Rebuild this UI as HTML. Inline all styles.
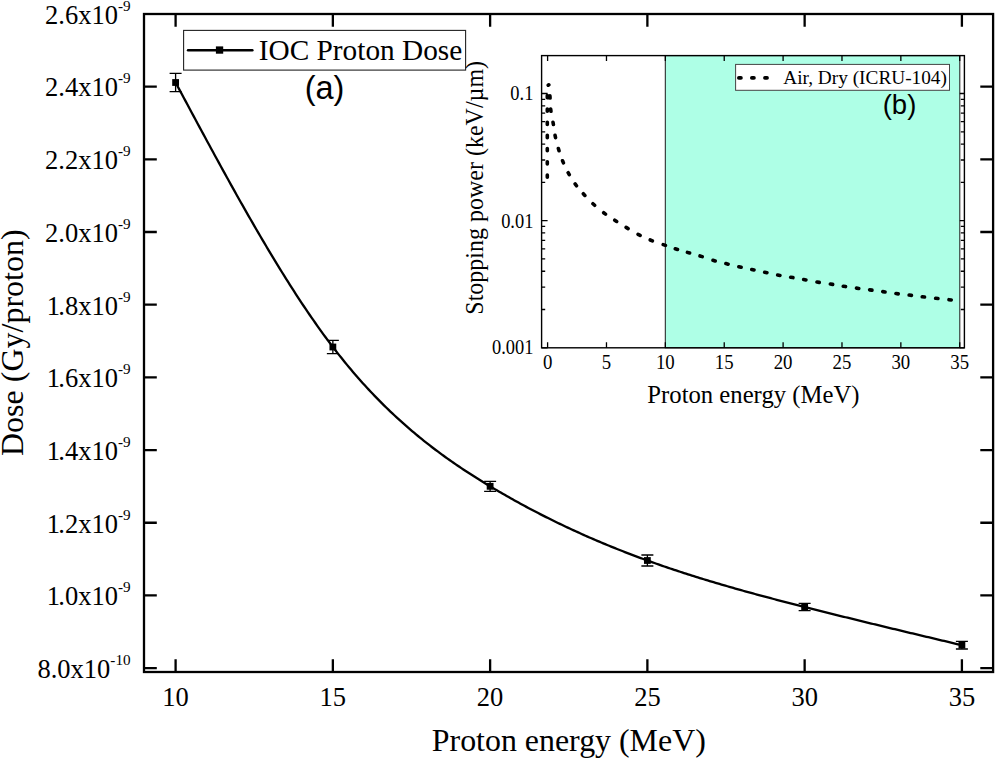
<!DOCTYPE html>
<html><head><meta charset="utf-8"><style>
html,body{margin:0;padding:0;background:#fff;}
svg{display:block;font-family:"Liberation Serif", serif;}
</style></head><body>
<svg width="995" height="758" viewBox="0 0 995 758" font-family='"Liberation Serif", serif' fill="#000">
<rect x="0" y="0" width="995" height="758" fill="#fff"/>
<path d="M175.60,82.50 L177.57,86.18 L179.54,89.86 L181.51,93.55 L183.48,97.23 L185.45,100.91 L187.42,104.58 L189.39,108.26 L191.37,111.93 L193.34,115.60 L195.31,119.27 L197.28,122.93 L199.25,126.59 L201.22,130.25 L203.19,133.90 L205.16,137.54 L207.13,141.18 L209.10,144.82 L211.07,148.45 L213.04,152.07 L215.01,155.69 L216.98,159.30 L218.95,162.90 L220.93,166.49 L222.90,170.08 L224.87,173.66 L226.84,177.23 L228.81,180.79 L230.78,184.34 L232.75,187.88 L234.72,191.42 L236.69,194.94 L238.66,198.45 L240.63,201.95 L242.60,205.43 L244.57,208.91 L246.54,212.37 L248.52,215.83 L250.49,219.26 L252.46,222.69 L254.43,226.10 L256.40,229.50 L258.37,232.88 L260.34,236.25 L262.31,239.61 L264.28,242.95 L266.25,246.27 L268.22,249.58 L270.19,252.87 L272.16,256.14 L274.13,259.40 L276.10,262.64 L278.08,265.87 L280.05,269.07 L282.02,272.26 L283.99,275.42 L285.96,278.57 L287.93,281.70 L289.90,284.81 L291.87,287.90 L293.84,290.97 L295.81,294.02 L297.78,297.04 L299.75,300.05 L301.72,303.03 L303.69,305.99 L305.66,308.93 L307.64,311.85 L309.61,314.74 L311.58,317.61 L313.55,320.46 L315.52,323.28 L317.49,326.07 L319.46,328.84 L321.43,331.59 L323.40,334.31 L325.37,337.00 L327.34,339.67 L329.31,342.31 L331.28,344.93 L333.25,347.52 L335.22,350.07 L337.20,352.61 L339.17,355.11 L341.14,357.59 L343.11,360.04 L345.08,362.47 L347.05,364.86 L349.02,367.24 L350.99,369.59 L352.96,371.91 L354.93,374.20 L356.90,376.48 L358.87,378.72 L360.84,380.95 L362.81,383.15 L364.78,385.32 L366.76,387.48 L368.73,389.60 L370.70,391.71 L372.67,393.79 L374.64,395.85 L376.61,397.89 L378.58,399.91 L380.55,401.90 L382.52,403.88 L384.49,405.83 L386.46,407.76 L388.43,409.67 L390.40,411.56 L392.37,413.43 L394.35,415.28 L396.32,417.11 L398.29,418.92 L400.26,420.71 L402.23,422.48 L404.20,424.23 L406.17,425.97 L408.14,427.69 L410.11,429.39 L412.08,431.07 L414.05,432.73 L416.02,434.38 L417.99,436.01 L419.96,437.62 L421.93,439.22 L423.91,440.80 L425.88,442.36 L427.85,443.91 L429.82,445.45 L431.79,446.97 L433.76,448.47 L435.73,449.96 L437.70,451.43 L439.67,452.90 L441.64,454.34 L443.61,455.78 L445.58,457.20 L447.55,458.60 L449.52,460.00 L451.49,461.38 L453.47,462.75 L455.44,464.11 L457.41,465.45 L459.38,466.79 L461.35,468.11 L463.32,469.42 L465.29,470.72 L467.26,472.01 L469.23,473.29 L471.20,474.56 L473.17,475.82 L475.14,477.08 L477.11,478.32 L479.08,479.55 L481.05,480.77 L483.03,481.99 L485.00,483.20 L486.97,484.40 L488.94,485.59 L490.91,486.77 L492.88,487.95 L494.85,489.12 L496.82,490.28 L498.79,491.44 L500.76,492.59 L502.73,493.73 L504.70,494.86 L506.67,495.99 L508.64,497.11 L510.62,498.22 L512.59,499.33 L514.56,500.43 L516.53,501.52 L518.50,502.61 L520.47,503.68 L522.44,504.76 L524.41,505.82 L526.38,506.88 L528.35,507.93 L530.32,508.98 L532.29,510.02 L534.26,511.05 L536.23,512.07 L538.20,513.09 L540.18,514.11 L542.15,515.11 L544.12,516.11 L546.09,517.11 L548.06,518.09 L550.03,519.08 L552.00,520.05 L553.97,521.02 L555.94,521.98 L557.91,522.94 L559.88,523.89 L561.85,524.83 L563.82,525.77 L565.79,526.70 L567.76,527.63 L569.74,528.55 L571.71,529.47 L573.68,530.37 L575.65,531.28 L577.62,532.17 L579.59,533.07 L581.56,533.95 L583.53,534.83 L585.50,535.71 L587.47,536.58 L589.44,537.44 L591.41,538.30 L593.38,539.15 L595.35,540.00 L597.32,540.84 L599.30,541.67 L601.27,542.50 L603.24,543.33 L605.21,544.15 L607.18,544.96 L609.15,545.77 L611.12,546.58 L613.09,547.38 L615.06,548.17 L617.03,548.96 L619.00,549.75 L620.97,550.52 L622.94,551.30 L624.91,552.07 L626.88,552.83 L628.86,553.59 L630.83,554.35 L632.80,555.10 L634.77,555.84 L636.74,556.58 L638.71,557.32 L640.68,558.05 L642.65,558.78 L644.62,559.50 L646.59,560.21 L648.56,560.93 L650.53,561.64 L652.50,562.34 L654.47,563.04 L656.45,563.73 L658.42,564.43 L660.39,565.11 L662.36,565.79 L664.33,566.47 L666.30,567.15 L668.27,567.82 L670.24,568.48 L672.21,569.15 L674.18,569.80 L676.15,570.46 L678.12,571.11 L680.09,571.76 L682.06,572.40 L684.03,573.04 L686.01,573.68 L687.98,574.31 L689.95,574.94 L691.92,575.56 L693.89,576.18 L695.86,576.80 L697.83,577.42 L699.80,578.03 L701.77,578.64 L703.74,579.24 L705.71,579.84 L707.68,580.44 L709.65,581.04 L711.62,581.63 L713.59,582.22 L715.57,582.81 L717.54,583.39 L719.51,583.97 L721.48,584.55 L723.45,585.13 L725.42,585.70 L727.39,586.27 L729.36,586.84 L731.33,587.40 L733.30,587.96 L735.27,588.52 L737.24,589.08 L739.21,589.63 L741.18,590.19 L743.15,590.74 L745.13,591.29 L747.10,591.83 L749.07,592.37 L751.04,592.92 L753.01,593.46 L754.98,593.99 L756.95,594.53 L758.92,595.06 L760.89,595.59 L762.86,596.12 L764.83,596.65 L766.80,597.18 L768.77,597.70 L770.74,598.22 L772.72,598.75 L774.69,599.26 L776.66,599.78 L778.63,600.30 L780.60,600.81 L782.57,601.33 L784.54,601.84 L786.51,602.35 L788.48,602.86 L790.45,603.37 L792.42,603.88 L794.39,604.38 L796.36,604.89 L798.33,605.39 L800.30,605.90 L802.28,606.40 L804.25,606.90 L806.22,607.40 L808.19,607.90 L810.16,608.40 L812.13,608.90 L814.10,609.39 L816.07,609.89 L818.04,610.39 L820.01,610.88 L821.98,611.38 L823.95,611.87 L825.92,612.36 L827.89,612.85 L829.86,613.35 L831.84,613.84 L833.81,614.33 L835.78,614.82 L837.75,615.30 L839.72,615.79 L841.69,616.28 L843.66,616.77 L845.63,617.25 L847.60,617.74 L849.57,618.22 L851.54,618.71 L853.51,619.19 L855.48,619.67 L857.45,620.16 L859.42,620.64 L861.40,621.12 L863.37,621.60 L865.34,622.08 L867.31,622.56 L869.28,623.04 L871.25,623.52 L873.22,624.00 L875.19,624.48 L877.16,624.95 L879.13,625.43 L881.10,625.91 L883.07,626.38 L885.04,626.86 L887.01,627.33 L888.98,627.81 L890.96,628.28 L892.93,628.76 L894.90,629.23 L896.87,629.71 L898.84,630.18 L900.81,630.65 L902.78,631.12 L904.75,631.60 L906.72,632.07 L908.69,632.54 L910.66,633.01 L912.63,633.48 L914.60,633.95 L916.57,634.42 L918.55,634.89 L920.52,635.36 L922.49,635.83 L924.46,636.30 L926.43,636.77 L928.40,637.24 L930.37,637.71 L932.34,638.18 L934.31,638.65 L936.28,639.12 L938.25,639.59 L940.22,640.05 L942.19,640.52 L944.16,640.99 L946.13,641.46 L948.11,641.93 L950.08,642.39 L952.05,642.86 L954.02,643.33 L955.99,643.80 L957.96,644.26 L959.93,644.73 L961.90,645.20" fill="none" stroke="#000" stroke-width="2.3" stroke-linejoin="round"/>
<path d="M175.60,73.40 V91.60 M169.60,73.40 H181.60 M169.60,91.60 H181.60" stroke="#000" stroke-width="1.3" fill="none"/>
<rect x="172.20" y="79.10" width="6.8" height="6.8" fill="#000"/>
<path d="M332.86,340.40 V353.60 M326.86,340.40 H338.86 M326.86,353.60 H338.86" stroke="#000" stroke-width="1.3" fill="none"/>
<rect x="329.46" y="343.60" width="6.8" height="6.8" fill="#000"/>
<path d="M490.12,481.30 V491.30 M484.12,481.30 H496.12 M484.12,491.30 H496.12" stroke="#000" stroke-width="1.3" fill="none"/>
<rect x="486.72" y="482.90" width="6.8" height="6.8" fill="#000"/>
<path d="M647.38,555.00 V566.00 M641.38,555.00 H653.38 M641.38,566.00 H653.38" stroke="#000" stroke-width="1.3" fill="none"/>
<rect x="643.98" y="557.10" width="6.8" height="6.8" fill="#000"/>
<path d="M804.64,603.35 V610.65 M798.64,603.35 H810.64 M798.64,610.65 H810.64" stroke="#000" stroke-width="1.3" fill="none"/>
<rect x="801.24" y="603.60" width="6.8" height="6.8" fill="#000"/>
<path d="M961.90,641.40 V649.00 M955.90,641.40 H967.90 M955.90,649.00 H967.90" stroke="#000" stroke-width="1.3" fill="none"/>
<rect x="958.50" y="641.80" width="6.8" height="6.8" fill="#000"/>
<path d="M175.60,672.00 V659.20 M175.60,14.00 V26.80 M332.86,672.00 V659.20 M332.86,14.00 V26.80 M490.12,672.00 V659.20 M490.12,14.00 V26.80 M647.38,672.00 V659.20 M647.38,14.00 V26.80 M804.64,672.00 V659.20 M804.64,14.00 V26.80 M961.90,672.00 V659.20 M961.90,14.00 V26.80 M144.00,668.10 H156.80 M993.10,668.10 H980.30 M144.00,595.42 H156.80 M993.10,595.42 H980.30 M144.00,522.74 H156.80 M993.10,522.74 H980.30 M144.00,450.06 H156.80 M993.10,450.06 H980.30 M144.00,377.38 H156.80 M993.10,377.38 H980.30 M144.00,304.70 H156.80 M993.10,304.70 H980.30 M144.00,232.02 H156.80 M993.10,232.02 H980.30 M144.00,159.34 H156.80 M993.10,159.34 H980.30 M144.00,86.66 H156.80 M993.10,86.66 H980.30" stroke="#000" stroke-width="2.3" fill="none"/>
<rect x="144.0" y="14.0" width="849.10" height="658.00" fill="none" stroke="#000" stroke-width="2.3"/>
<text x="175.60" y="705.5" font-size="26.5" text-anchor="middle">10</text>
<text x="332.86" y="705.5" font-size="26.5" text-anchor="middle">15</text>
<text x="490.12" y="705.5" font-size="26.5" text-anchor="middle">20</text>
<text x="647.38" y="705.5" font-size="26.5" text-anchor="middle">25</text>
<text x="804.64" y="705.5" font-size="26.5" text-anchor="middle">30</text>
<text x="961.90" y="705.5" font-size="26.5" text-anchor="middle">35</text>
<text x="130.6" y="677.90" font-size="26.5" text-anchor="end">8.0x10<tspan font-size="15.2" dy="-13">-10</tspan></text>
<text x="130.6" y="605.22" font-size="26.5" text-anchor="end">1<tspan dx="-1.6">.0</tspan>x10<tspan font-size="15.2" dy="-13">-9</tspan></text>
<text x="130.6" y="532.54" font-size="26.5" text-anchor="end">1<tspan dx="-1.6">.2</tspan>x10<tspan font-size="15.2" dy="-13">-9</tspan></text>
<text x="130.6" y="459.86" font-size="26.5" text-anchor="end">1<tspan dx="-1.6">.4</tspan>x10<tspan font-size="15.2" dy="-13">-9</tspan></text>
<text x="130.6" y="387.18" font-size="26.5" text-anchor="end">1<tspan dx="-1.6">.6</tspan>x10<tspan font-size="15.2" dy="-13">-9</tspan></text>
<text x="130.6" y="314.50" font-size="26.5" text-anchor="end">1<tspan dx="-1.6">.8</tspan>x10<tspan font-size="15.2" dy="-13">-9</tspan></text>
<text x="130.6" y="241.82" font-size="26.5" text-anchor="end">2.0x10<tspan font-size="15.2" dy="-13">-9</tspan></text>
<text x="130.6" y="169.14" font-size="26.5" text-anchor="end">2.2x10<tspan font-size="15.2" dy="-13">-9</tspan></text>
<text x="130.6" y="96.46" font-size="26.5" text-anchor="end">2.4x10<tspan font-size="15.2" dy="-13">-9</tspan></text>
<text x="130.6" y="23.78" font-size="26.5" text-anchor="end">2.6x10<tspan font-size="15.2" dy="-13">-9</tspan></text>
<text x="568.8" y="750.6" font-size="31.9" text-anchor="middle">Proton energy (MeV)</text>
<text transform="translate(23.2,342.7) rotate(-90)" font-size="32" text-anchor="middle">Dose (Gy/proton)</text>
<rect x="183.6" y="30.4" width="282" height="39.7" fill="#fff" stroke="#222" stroke-width="1.1"/>
<path d="M188.0,50.2 H252.4" stroke="#000" stroke-width="2.4" stroke-linecap="round"/>
<rect x="215.9" y="46.4" width="7.3" height="7.3" fill="#000"/>
<text x="258.8" y="60.3" font-size="29.3">IOC Proton Dose</text>
<text x="324.6" y="99.2" font-size="32.5" font-family='"Liberation Sans", sans-serif' text-anchor="middle">(a)</text>
<rect x="541.6" y="55.6" width="422.80" height="292.20" fill="#fff"/>
<rect x="665.3" y="55.6" width="294.50" height="292.20" fill="#AEFFE6" stroke="#1a1a1a" stroke-width="1"/>
<path d="M547.60,347.80 V342.30 M547.60,55.60 V61.10 M606.48,347.80 V342.30 M606.48,55.60 V61.10 M665.35,347.80 V342.30 M665.35,55.60 V61.10 M724.23,347.80 V342.30 M724.23,55.60 V61.10 M783.10,347.80 V342.30 M783.10,55.60 V61.10 M841.98,347.80 V342.30 M841.98,55.60 V61.10 M900.85,347.80 V342.30 M900.85,55.60 V61.10 M959.73,347.80 V342.30 M959.73,55.60 V61.10 M541.60,347.80 H547.60 M964.40,347.80 H959.80 M541.60,309.52 H545.20 M964.40,309.52 H960.80 M541.60,287.13 H545.20 M964.40,287.13 H960.80 M541.60,271.25 H545.20 M964.40,271.25 H960.80 M541.60,258.93 H545.20 M964.40,258.93 H960.80 M541.60,248.86 H545.20 M964.40,248.86 H960.80 M541.60,240.35 H545.20 M964.40,240.35 H960.80 M541.60,232.97 H545.20 M964.40,232.97 H960.80 M541.60,226.47 H545.20 M964.40,226.47 H960.80 M541.60,220.65 H547.60 M964.40,220.65 H959.80 M541.60,182.37 H545.20 M964.40,182.37 H960.80 M541.60,159.98 H545.20 M964.40,159.98 H960.80 M541.60,144.10 H545.20 M964.40,144.10 H960.80 M541.60,131.78 H545.20 M964.40,131.78 H960.80 M541.60,121.71 H545.20 M964.40,121.71 H960.80 M541.60,113.20 H545.20 M964.40,113.20 H960.80 M541.60,105.82 H545.20 M964.40,105.82 H960.80 M541.60,99.32 H545.20 M964.40,99.32 H960.80 M541.60,93.50 H547.60 M964.40,93.50 H959.80" stroke="#000" stroke-width="1.3" fill="none"/>
<rect x="541.6" y="55.6" width="422.80" height="292.20" fill="none" stroke="#000" stroke-width="1.4"/>
<path d="M547.30,174.95 L547.30,177.25 M547.30,161.75 L547.30,164.05 M547.30,148.45 L547.30,150.75 M547.30,135.35 L547.30,137.65 M547.30,122.25 L547.30,124.55 M547.30,108.95 L547.30,111.25 M547.30,95.45 L547.30,97.75 M548.21,85.20 L548.79,84.80 M549.93,95.75 L550.07,98.05 M550.66,108.96 L550.94,111.24 M553.01,122.27 L553.39,124.53 M555.06,135.37 L555.54,137.63 M558.37,148.50 L559.03,150.70 M562.56,160.74 L563.44,162.86 M568.14,172.70 L569.26,174.70 M575.12,183.87 L576.48,185.73 M583.32,193.75 L584.88,195.45 M592.95,203.72 L594.65,205.28 M603.68,212.71 L605.52,214.09 M614.74,220.17 L616.66,221.43 M626.11,227.41 L628.09,228.59 M638.08,234.28 L640.12,235.32 M650.23,239.97 L652.37,240.83 M663.21,244.62 L665.39,245.38 M675.30,248.75 L677.50,249.45 M687.40,252.38 L689.60,253.02 M700.00,255.96 L702.20,256.64 M713.00,260.28 L715.20,260.92 M725.88,263.62 L728.12,264.18 M738.88,266.75 L741.12,267.25 M751.78,269.46 L754.02,269.94 M764.68,272.26 L766.92,272.74 M777.67,274.99 L779.93,275.41 M790.67,277.20 L792.93,277.60 M803.67,279.59 L805.93,280.01 M816.97,282.01 L819.23,282.39 M830.36,284.02 L832.64,284.38 M843.26,286.22 L845.54,286.58 M856.46,288.14 L858.74,288.46 M869.66,289.85 L871.94,290.15 M882.76,291.64 L885.04,291.96 M895.96,293.55 L898.24,293.85 M909.16,295.06 L911.44,295.34 M922.26,296.76 L924.54,297.04 M935.66,298.28 L937.94,298.52 M948.96,299.68 L951.24,299.92" stroke="#000" stroke-width="3.6" stroke-linecap="round" fill="none"/>
<text transform="translate(547.60,369.2) scale(0.965,1.06)" font-size="19.5" text-anchor="middle">0</text>
<text transform="translate(606.48,369.2) scale(0.965,1.06)" font-size="19.5" text-anchor="middle">5</text>
<text transform="translate(665.35,369.2) scale(0.965,1.06)" font-size="19.5" text-anchor="middle">10</text>
<text transform="translate(724.23,369.2) scale(0.965,1.06)" font-size="19.5" text-anchor="middle">15</text>
<text transform="translate(783.10,369.2) scale(0.965,1.06)" font-size="19.5" text-anchor="middle">20</text>
<text transform="translate(841.98,369.2) scale(0.965,1.06)" font-size="19.5" text-anchor="middle">25</text>
<text transform="translate(900.85,369.2) scale(0.965,1.06)" font-size="19.5" text-anchor="middle">30</text>
<text transform="translate(959.73,369.2) scale(0.965,1.06)" font-size="19.5" text-anchor="middle">35</text>
<text transform="translate(533.4,353.80) scale(0.945,1.06)" font-size="19.5" text-anchor="end">0.001</text>
<text transform="translate(533.4,227.50) scale(0.945,1.06)" font-size="19.5" text-anchor="end">0.01</text>
<text transform="translate(533.4,100.00) scale(0.945,1.06)" font-size="19.5" text-anchor="end">0.1</text>
<text x="753.4" y="402.5" font-size="24.7" text-anchor="middle">Proton energy (MeV)</text>
<text transform="translate(482.6,187.8) rotate(-90) scale(1,1.08)" font-size="24" text-anchor="middle">Stopping power (keV/µm)</text>
<rect x="735.6" y="64.4" width="213.9" height="25.9" fill="#fff" stroke="#444" stroke-width="1"/>
<path d="M738.80,77.9 H741.00 M751.80,77.9 H754.00 M764.90,77.9 H767.10" stroke="#000" stroke-width="3.6" stroke-linecap="round"/>
<text x="783.3" y="83.6" font-size="19.3">Air, Dry (ICRU-104)</text>
<text x="899.5" y="114.4" font-size="27.5" font-family='"Liberation Sans", sans-serif' text-anchor="middle">(b)</text>
</svg>
</body></html>
